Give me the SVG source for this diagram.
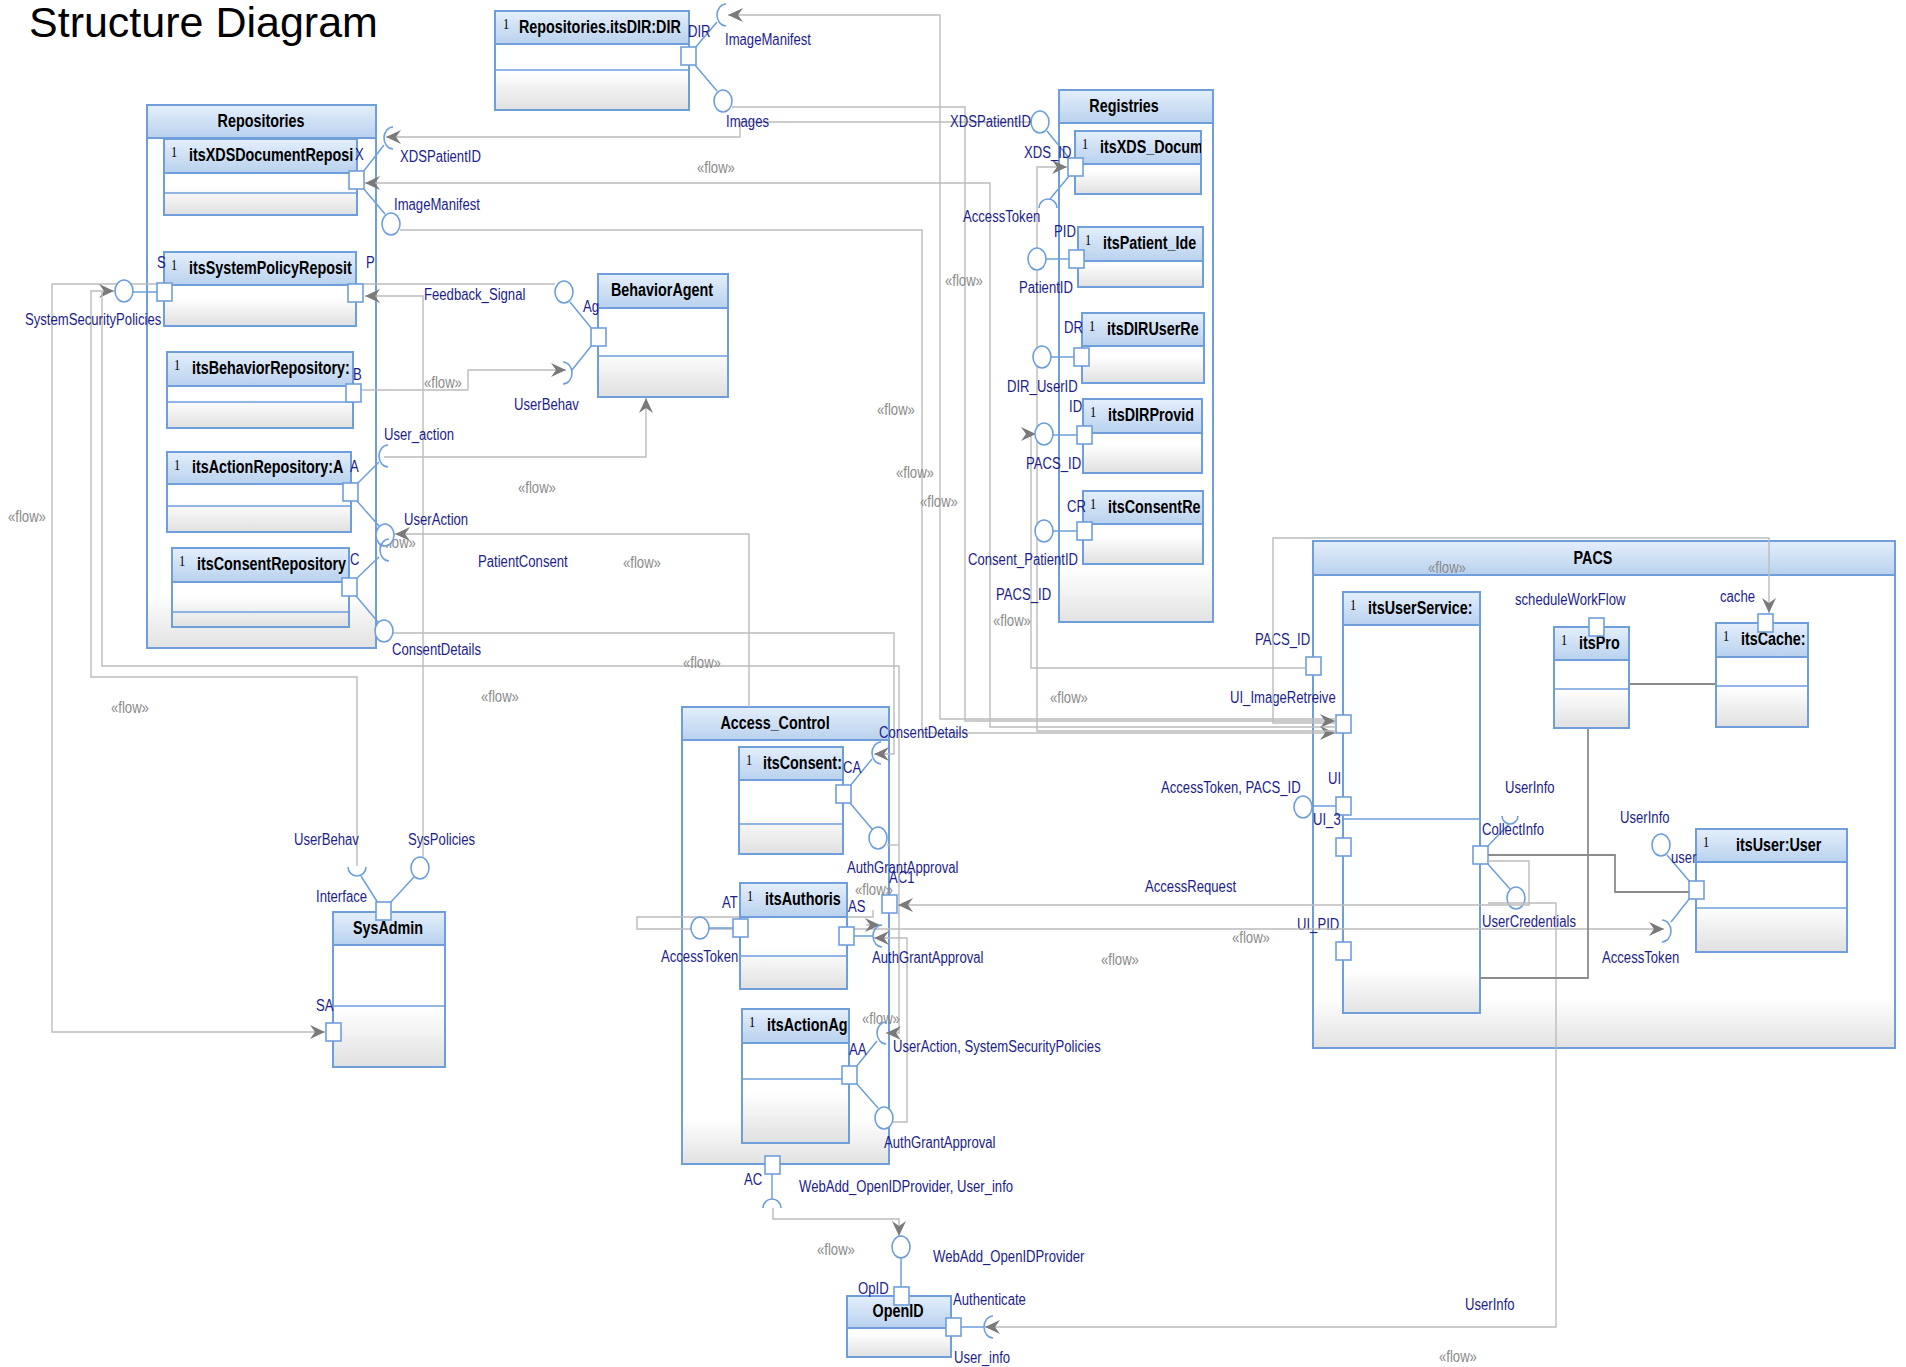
<svg xmlns="http://www.w3.org/2000/svg" width="1906" height="1367" viewBox="0 0 1906 1367">
<defs>
<linearGradient id="gHdr" x1="0" y1="0" x2="0" y2="1"><stop offset="0" stop-color="#e4effb"/><stop offset="1" stop-color="#b9d1ee"/></linearGradient>
<linearGradient id="gBody" x1="0" y1="0" x2="0" y2="1"><stop offset="0" stop-color="#ffffff"/><stop offset="0.62" stop-color="#ffffff"/><stop offset="1" stop-color="#e0e0e0"/></linearGradient>
<linearGradient id="gCont" x1="0" y1="0" x2="0" y2="1"><stop offset="0" stop-color="#ffffff"/><stop offset="0.9" stop-color="#ffffff"/><stop offset="1" stop-color="#e2e2e2"/></linearGradient>
<marker id="arr" markerWidth="16" markerHeight="16" refX="15" refY="8" orient="auto" markerUnits="userSpaceOnUse"><path d="M0,1 L15,8 L0,15 L5,8 Z" fill="#7a7a7a"/></marker>
<clipPath id="c1"><rect x="164" y="139" width="193" height="34"/></clipPath>
<clipPath id="c2"><rect x="164" y="252" width="192" height="33"/></clipPath>
<clipPath id="c3"><rect x="167" y="352" width="186" height="34"/></clipPath>
<clipPath id="c4"><rect x="167" y="452" width="184" height="32"/></clipPath>
<clipPath id="c5"><rect x="172" y="548" width="177" height="34"/></clipPath>
<clipPath id="c6"><rect x="495" y="11" width="194" height="33"/></clipPath>
<clipPath id="c7"><rect x="1075" y="131" width="126" height="33"/></clipPath>
<clipPath id="c8"><rect x="1078" y="227" width="125" height="34"/></clipPath>
<clipPath id="c9"><rect x="1082" y="313" width="122" height="33"/></clipPath>
<clipPath id="c10"><rect x="1083" y="399" width="119" height="34"/></clipPath>
<clipPath id="c11"><rect x="1083" y="491" width="120" height="33"/></clipPath>
<clipPath id="c12"><rect x="1343" y="592" width="137" height="33"/></clipPath>
<clipPath id="c13"><rect x="1554" y="627" width="75" height="33"/></clipPath>
<clipPath id="c14"><rect x="1716" y="623" width="92" height="34"/></clipPath>
<clipPath id="c16"><rect x="739" y="747" width="104" height="33"/></clipPath>
<clipPath id="c17"><rect x="740" y="883" width="107" height="34"/></clipPath>
<clipPath id="c18"><rect x="742" y="1009" width="107" height="34"/></clipPath>
<style>
.cont{fill:url(#gCont);stroke:#6e9fdb;stroke-width:2}
.body{fill:url(#gBody);stroke:#6e9fdb;stroke-width:2}
.hdr{fill:url(#gHdr);stroke:#6e9fdb;stroke-width:2}
.sep{stroke:#6e9fdb;stroke-width:1.5}
.port{fill:#ffffff;stroke:#6e9fdb;stroke-width:1.6}
.ball{fill:#ffffff;stroke:#6e9fdb;stroke-width:1.6}
.sock{fill:none;stroke:#6e9fdb;stroke-width:1.6}
.lnk{fill:none;stroke:#6e9fdb;stroke-width:1.5}
.flow{fill:none;stroke:#bcbcbc;stroke-width:1.4}
.assoc{fill:none;stroke:#8c8c8c;stroke-width:1.8}
.t{font-family:"Liberation Sans",Arial,sans-serif;font-weight:bold;font-size:17.5px;fill:#000000}
.one{font-family:"Liberation Serif","Times New Roman",serif;font-size:15px;fill:#000000}
.lb{font-family:"Liberation Sans",Arial,sans-serif;font-size:16px;fill:#1d1d8a}
.fw{font-family:"Liberation Sans",Arial,sans-serif;font-size:16px;fill:#8a8a8a}
.h1{font-family:"Liberation Sans",Arial,sans-serif;font-size:43px;fill:#000000}
</style>
</defs>
<rect width="1906" height="1367" fill="#ffffff"/>
<text class="h1" x="29" y="37">Structure Diagram</text>

<!-- containers -->
<g id="Repositories">
<rect class="cont" x="147" y="105" width="229" height="543"/>
<rect class="hdr" x="147" y="105" width="229" height="33"/>
<text class="t" text-anchor="middle" transform="matrix(.82 0 0 1 261 127)">Repositories</text>
</g>
<g id="Registries">
<rect class="cont" x="1059" y="90" width="154" height="532"/>
<rect class="hdr" x="1059" y="90" width="154" height="33"/>
<text class="t" text-anchor="middle" transform="matrix(.82 0 0 1 1124 112)">Registries</text>
</g>
<g id="PACS">
<rect class="cont" x="1313" y="541" width="582" height="507"/>
<rect class="hdr" x="1313" y="541" width="582" height="34"/>
<text class="t" text-anchor="middle" transform="matrix(.82 0 0 1 1593 564)">PACS</text>
<rect class="port" x="1306" y="657" width="15" height="18"/>
<text class="lb" transform="matrix(.82 0 0 1 1255 645)">PACS_ID</text>
</g>
<g id="Access_Control">
<rect class="cont" x="682" y="707" width="207" height="457"/>
<rect class="hdr" x="682" y="707" width="207" height="33"/>
<text class="t" text-anchor="middle" transform="matrix(.82 0 0 1 775 729)">Access_Control</text>
<path class="lnk" d="M772,1174 L772,1199"/>
<path class="sock" d="M763,1208 A9 9 0 0 1 781,1208"/>
<rect class="port" x="882" y="895" width="15" height="18"/>
<rect class="port" x="765" y="1156" width="15" height="18"/>
<text class="lb" transform="matrix(.82 0 0 1 889 883)">AC1</text>
<text class="lb" transform="matrix(.82 0 0 1 744 1185)">AC</text>
<text class="lb" transform="matrix(.82 0 0 1 799 1192)">WebAdd_OpenIDProvider, User_info</text>
</g>

<g id="itsUserService">
<rect class="cont" x="1343" y="592" width="137" height="421"/>
<rect class="hdr" x="1343" y="592" width="137" height="33"/>
<line class="sep" x1="1343" y1="819" x2="1480" y2="819"/>
<text class="one" transform="matrix(.82 0 0 1 1350 610)">1</text>
<g clip-path="url(#c12)"><text class="t" transform="matrix(.82 0 0 1 1368 614)">itsUserService:</text></g>
<path class="lnk" d="M1312,806 L1336,806 M1487,847 L1509,824 M1487,863 L1510,889"/>
<ellipse class="ball" cx="1303" cy="807" rx="9" ry="11"/>
<path class="sock" d="M1502,816 A8 8 0 0 0 1518,816"/>
<ellipse class="ball" cx="1516" cy="898" rx="9" ry="11"/>
<rect class="port" x="1336" y="715" width="15" height="18"/>
<rect class="port" x="1336" y="797" width="15" height="18"/>
<rect class="port" x="1336" y="838" width="15" height="18"/>
<rect class="port" x="1336" y="942" width="15" height="18"/>
<rect class="port" x="1473" y="846" width="15" height="18"/>
<text class="lb" transform="matrix(.82 0 0 1 1230 703)">UI_ImageRetreive</text>
<text class="lb" transform="matrix(.82 0 0 1 1328 784)">UI</text>
<text class="lb" transform="matrix(.82 0 0 1 1313 825)">UI_3</text>
<text class="lb" transform="matrix(.82 0 0 1 1297 930)">UI_PID</text>
<text class="lb" transform="matrix(.82 0 0 1 1482 835)">CollectInfo</text>
<text class="lb" transform="matrix(.82 0 0 1 1161 793)">AccessToken, PACS_ID</text>
<text class="lb" transform="matrix(.82 0 0 1 1505 793)">UserInfo</text>
<text class="lb" transform="matrix(.82 0 0 1 1482 927)">UserCredentials</text>
</g>

<!-- connectors -->
<g id="connectors">
<path class="flow" marker-end="url(#arr)" d="M1336,719 L940,719 L940,15 L728,15"/>
<path class="flow" marker-end="url(#arr)" d="M1336,723 L1273,723 L1273,538 L1769,538 L1769,613"/>
<path class="flow" marker-end="url(#arr)" d="M732,107 L965,107 L965,721 L1335,721"/>
<path class="flow" marker-end="url(#arr)" d="M1336,727 L990,727 L990,183 L365,183"/>
<path class="flow" marker-end="url(#arr)" d="M400,230 L922,230 L922,733 L1335,733"/>
<path class="flow" marker-end="url(#arr)" d="M1031,122 L740,122 L740,137 L386,137"/>
<path class="flow" marker-end="url(#arr)" d="M1336,731 L1037,731 L1037,167 L1067,167"/>
<path class="flow" marker-end="url(#arr)" d="M1306,668 L1031,668 L1031,434 L1036,434"/>
<path class="flow" marker-end="url(#arr)" d="M423,857 L423,296 L365,296"/>
<path class="flow" marker-end="url(#arr)" d="M555,284 L52,284 L52,1032 L325,1032"/>
<path class="flow" marker-end="url(#arr)" d="M357,866 L357,677 L91,677 L91,291 L114,291"/>
<path class="flow" marker-end="url(#arr)" d="M102,291 L102,666 L899,666 L899,1033 L886,1033"/>
<path class="flow" marker-end="url(#arr)" d="M360,390 L468,390 L468,370 L566,370"/>
<path class="flow" marker-end="url(#arr)" d="M384,457 L646,457 L646,398"/>
<path class="flow" marker-end="url(#arr)" d="M749,707 L749,534 L395,534"/>
<path class="flow" marker-end="url(#arr)" d="M393,633 L894,633 L894,754 L874,754"/>
<path class="flow" d="M887,845 L899,845"/>
<path class="flow" marker-end="url(#arr)" d="M893,1122 L907,1122 L907,938 L874,938"/>
<path class="flow" marker-end="url(#arr)" d="M1488,861 L1529,861 L1529,905 L898,905"/>
<path class="flow" marker-end="url(#arr)" d="M873,910 L873,917 L637,917 L637,929 L1664,929"/>
<path class="flow" marker-end="url(#arr)" d="M866,925 L880,925"/>
<path class="flow" marker-end="url(#arr)" d="M773,1208 L773,1219 L899,1219 L899,1236"/>
<path class="flow" marker-end="url(#arr)" d="M1488,903 L1556,903 L1556,1327 L985,1327"/>
<path class="assoc" d="M1629,684 L1716,684"/>
<path class="assoc" d="M1588,728 L1588,978 L1480,978"/>
<path class="assoc" d="M1488,855 L1615,855 L1615,892 L1689,892"/>
<text class="fw" transform="matrix(.82 0 0 1 697 173)">«flow»</text>
<text class="fw" transform="matrix(.82 0 0 1 424 388)">«flow»</text>
<text class="fw" transform="matrix(.82 0 0 1 378 548)">«flow»</text>
<text class="fw" transform="matrix(.82 0 0 1 8 522)">«flow»</text>
<text class="fw" transform="matrix(.82 0 0 1 111 713)">«flow»</text>
<text class="fw" transform="matrix(.82 0 0 1 518 493)">«flow»</text>
<text class="fw" transform="matrix(.82 0 0 1 623 568)">«flow»</text>
<text class="fw" transform="matrix(.82 0 0 1 683 668)">«flow»</text>
<text class="fw" transform="matrix(.82 0 0 1 481 702)">«flow»</text>
<text class="fw" transform="matrix(.82 0 0 1 877 415)">«flow»</text>
<text class="fw" transform="matrix(.82 0 0 1 896 478)">«flow»</text>
<text class="fw" transform="matrix(.82 0 0 1 920 507)">«flow»</text>
<text class="fw" transform="matrix(.82 0 0 1 945 286)">«flow»</text>
<text class="fw" transform="matrix(.82 0 0 1 993 626)">«flow»</text>
<text class="fw" transform="matrix(.82 0 0 1 1050 703)">«flow»</text>
<text class="fw" transform="matrix(.82 0 0 1 1428 573)">«flow»</text>
<text class="fw" transform="matrix(.82 0 0 1 855 895)">«flow»</text>
<text class="fw" transform="matrix(.82 0 0 1 1232 943)">«flow»</text>
<text class="fw" transform="matrix(.82 0 0 1 1101 965)">«flow»</text>
<text class="fw" transform="matrix(.82 0 0 1 862 1024)">«flow»</text>
<text class="fw" transform="matrix(.82 0 0 1 817 1255)">«flow»</text>
<text class="fw" transform="matrix(.82 0 0 1 1439 1362)">«flow»</text>
<text class="lb" transform="matrix(.82 0 0 1 996 600)">PACS_ID</text>
<text class="lb" transform="matrix(.82 0 0 1 1145 892)">AccessRequest</text>
<text class="lb" transform="matrix(.82 0 0 1 1465 1310)">UserInfo</text>
</g>

<!-- Repositories parts -->
<g id="itsXDSDocumentRepository">
<rect class="body" x="164" y="139" width="193" height="76"/>
<rect class="hdr" x="164" y="139" width="193" height="34"/>
<line class="sep" x1="164" y1="193" x2="357" y2="193"/>
<text class="one" transform="matrix(.82 0 0 1 171 157)">1</text>
<g clip-path="url(#c1)"><text class="t" transform="matrix(.82 0 0 1 189 161)">itsXDSDocumentReposi</text></g>
<path class="lnk" d="M363,172 L384,145 M363,188 L385,214"/>
<path class="sock" d="M393,127 A9 11 0 0 0 393,149"/>
<ellipse class="ball" cx="391" cy="224" rx="9" ry="11"/>
<rect class="port" x="349" y="171" width="15" height="18"/>
<text class="lb" transform="matrix(.82 0 0 1 355 160)">X</text>
<text class="lb" transform="matrix(.82 0 0 1 400 162)">XDSPatientID</text>
<text class="lb" transform="matrix(.82 0 0 1 394 210)">ImageManifest</text>
</g>
<g id="itsSystemPolicyRepository">
<rect class="body" x="164" y="252" width="192" height="74"/>
<rect class="hdr" x="164" y="252" width="192" height="33"/>
<text class="one" transform="matrix(.82 0 0 1 171 270)">1</text>
<g clip-path="url(#c2)"><text class="t" transform="matrix(.82 0 0 1 189 274)">itsSystemPolicyReposit</text></g>
<path class="lnk" d="M133,292 L157,292"/>
<ellipse class="ball" cx="124" cy="291" rx="9" ry="11"/>
<rect class="port" x="157" y="283" width="15" height="18"/>
<rect class="port" x="348" y="284" width="15" height="18"/>
<text class="lb" transform="matrix(.82 0 0 1 157 268)">S</text>
<text class="lb" transform="matrix(.82 0 0 1 366 268)">P</text>
<text class="lb" transform="matrix(.82 0 0 1 25 325)">SystemSecurityPolicies</text>
</g>
<g id="itsBehaviorRepository">
<rect class="body" x="167" y="352" width="186" height="76"/>
<rect class="hdr" x="167" y="352" width="186" height="34"/>
<line class="sep" x1="167" y1="402" x2="353" y2="402"/>
<text class="one" transform="matrix(.82 0 0 1 174 370)">1</text>
<g clip-path="url(#c3)"><text class="t" transform="matrix(.82 0 0 1 192 374)">itsBehaviorRepository:</text></g>
<rect class="port" x="346" y="384" width="15" height="18"/>
<text class="lb" transform="matrix(.82 0 0 1 353 380)">B</text>
</g>
<g id="itsActionRepository">
<rect class="body" x="167" y="452" width="184" height="80"/>
<rect class="hdr" x="167" y="452" width="184" height="32"/>
<line class="sep" x1="167" y1="506" x2="351" y2="506"/>
<text class="one" transform="matrix(.82 0 0 1 174 470)">1</text>
<g clip-path="url(#c4)"><text class="t" transform="matrix(.82 0 0 1 192 473)">itsActionRepository:A</text></g>
<path class="lnk" d="M357,484 L379,462 M357,501 L379,526"/>
<path class="sock" d="M388,445 A9 11 0 0 0 388,467"/>
<ellipse class="ball" cx="385" cy="535" rx="9" ry="11"/>
<rect class="port" x="343" y="483" width="15" height="18"/>
<text class="lb" transform="matrix(.82 0 0 1 350 472)">A</text>
<text class="lb" transform="matrix(.82 0 0 1 384 440)">User_action</text>
<text class="lb" transform="matrix(.82 0 0 1 404 525)">UserAction</text>
</g>
<g id="itsConsentRepository">
<rect class="body" x="172" y="548" width="177" height="79"/>
<rect class="hdr" x="172" y="548" width="177" height="34"/>
<line class="sep" x1="172" y1="612" x2="349" y2="612"/>
<text class="one" transform="matrix(.82 0 0 1 179 566)">1</text>
<g clip-path="url(#c5)"><text class="t" transform="matrix(.82 0 0 1 197 570)">itsConsentRepository</text></g>
<path class="lnk" d="M356,579 L379,557 M356,596 L378,622"/>
<path class="sock" d="M389,539 A9 11 0 0 0 389,561"/>
<ellipse class="ball" cx="384" cy="631" rx="9" ry="11"/>
<rect class="port" x="342" y="578" width="15" height="18"/>
<text class="lb" transform="matrix(.82 0 0 1 350 565)">C</text>
<text class="lb" transform="matrix(.82 0 0 1 392 655)">ConsentDetails</text>
<text class="lb" transform="matrix(.82 0 0 1 478 567)">PatientConsent</text>
</g>

<g id="itsDIR">
<rect class="body" x="495" y="11" width="194" height="99"/>
<rect class="hdr" x="495" y="11" width="194" height="33"/>
<line class="sep" x1="495" y1="70" x2="689" y2="70"/>
<text class="one" transform="matrix(.82 0 0 1 503 29)">1</text>
<g clip-path="url(#c6)"><text class="t" transform="matrix(.82 0 0 1 519 33)">Repositories.itsDIR:DIR</text></g>
<path class="lnk" d="M695,48 L717,22 M695,65 L717,91"/>
<path class="sock" d="M726,4 A9 11 0 0 0 726,26"/>
<ellipse class="ball" cx="723" cy="101" rx="9" ry="11"/>
<rect class="port" x="681" y="47" width="15" height="18"/>
<text class="lb" transform="matrix(.82 0 0 1 688 37)">DIR</text>
<text class="lb" transform="matrix(.82 0 0 1 725 45)">ImageManifest</text>
<text class="lb" transform="matrix(.82 0 0 1 726 127)">Images</text>
</g>

<g id="BehaviorAgent">
<rect class="body" x="598" y="274" width="130" height="123"/>
<rect class="hdr" x="598" y="274" width="130" height="34"/>
<line class="sep" x1="598" y1="356" x2="728" y2="356"/>
<text class="t" text-anchor="middle" transform="matrix(.82 0 0 1 662 296)">BehaviorAgent</text>
<path class="lnk" d="M592,329 L570,302 M592,345 L572,370"/>
<ellipse class="ball" cx="564" cy="292" rx="9" ry="11"/>
<path class="sock" d="M563,362 A9 11 0 0 1 563,384"/>
<rect class="port" x="591" y="328" width="15" height="18"/>
<text class="lb" transform="matrix(.82 0 0 1 583 312)">Ag</text>
<text class="lb" transform="matrix(.82 0 0 1 424 300)">Feedback_Signal</text>
<text class="lb" transform="matrix(.82 0 0 1 514 410)">UserBehav</text>
</g>

<g id="SysAdmin">
<rect class="body" x="333" y="912" width="112" height="155"/>
<rect class="hdr" x="333" y="912" width="112" height="33"/>
<line class="sep" x1="333" y1="1006" x2="445" y2="1006"/>
<text class="t" text-anchor="middle" transform="matrix(.82 0 0 1 388 934)">SysAdmin</text>
<path class="lnk" d="M378,903 L361,876 M390,903 L414,877"/>
<path class="sock" d="M348,867 A9 9 0 0 0 366,867"/>
<ellipse class="ball" cx="420" cy="868" rx="9" ry="11"/>
<rect class="port" x="376" y="902" width="15" height="18"/>
<rect class="port" x="326" y="1023" width="15" height="18"/>
<text class="lb" transform="matrix(.82 0 0 1 316 902)">Interface</text>
<text class="lb" transform="matrix(.82 0 0 1 316 1011)">SA</text>
<text class="lb" transform="matrix(.82 0 0 1 294 845)">UserBehav</text>
<text class="lb" transform="matrix(.82 0 0 1 408 845)">SysPolicies</text>
</g>

<!-- Registries parts -->
<g id="itsXDS_Document">
<rect class="body" x="1075" y="131" width="126" height="63"/>
<rect class="hdr" x="1075" y="131" width="126" height="33"/>
<text class="one" transform="matrix(.82 0 0 1 1082 149)">1</text>
<g clip-path="url(#c7)"><text class="t" transform="matrix(.82 0 0 1 1100 153)">itsXDS_Docum</text></g>
<path class="lnk" d="M1047,131 L1069,158 M1070,175 L1050,199"/>
<ellipse class="ball" cx="1040" cy="122" rx="9" ry="11"/>
<path class="sock" d="M1039,208 A9 9 0 0 1 1057,208"/>
<rect class="port" x="1068" y="158" width="15" height="18"/>
<text class="lb" transform="matrix(.82 0 0 1 1024 158)">XDS_ID</text>
<text class="lb" transform="matrix(.82 0 0 1 950 127)">XDSPatientID</text>
<text class="lb" transform="matrix(.82 0 0 1 963 222)">AccessToken</text>
</g>
<g id="itsPatient_Identity">
<rect class="body" x="1078" y="227" width="125" height="60"/>
<rect class="hdr" x="1078" y="227" width="125" height="34"/>
<text class="one" transform="matrix(.82 0 0 1 1085 245)">1</text>
<g clip-path="url(#c8)"><text class="t" transform="matrix(.82 0 0 1 1103 249)">itsPatient_Ide</text></g>
<path class="lnk" d="M1046,259 L1069,259"/>
<ellipse class="ball" cx="1037" cy="259" rx="9" ry="11"/>
<rect class="port" x="1069" y="250" width="15" height="18"/>
<text class="lb" transform="matrix(.82 0 0 1 1054 237)">PID</text>
<text class="lb" transform="matrix(.82 0 0 1 1019 293)">PatientID</text>
</g>
<g id="itsDIRUserRegistry">
<rect class="body" x="1082" y="313" width="122" height="70"/>
<rect class="hdr" x="1082" y="313" width="122" height="33"/>
<text class="one" transform="matrix(.82 0 0 1 1089 331)">1</text>
<g clip-path="url(#c9)"><text class="t" transform="matrix(.82 0 0 1 1107 335)">itsDIRUserRe</text></g>
<path class="lnk" d="M1051,357 L1074,357"/>
<ellipse class="ball" cx="1042" cy="357" rx="9" ry="11"/>
<rect class="port" x="1074" y="348" width="15" height="18"/>
<text class="lb" transform="matrix(.82 0 0 1 1064 333)">DR</text>
<text class="lb" transform="matrix(.82 0 0 1 1007 392)">DIR_UserID</text>
</g>
<g id="itsDIRProvider">
<rect class="body" x="1083" y="399" width="119" height="74"/>
<rect class="hdr" x="1083" y="399" width="119" height="34"/>
<text class="one" transform="matrix(.82 0 0 1 1090 417)">1</text>
<g clip-path="url(#c10)"><text class="t" transform="matrix(.82 0 0 1 1108 421)">itsDIRProvid</text></g>
<path class="lnk" d="M1053,435 L1077,435"/>
<ellipse class="ball" cx="1044" cy="434" rx="9" ry="11"/>
<rect class="port" x="1077" y="426" width="15" height="18"/>
<text class="lb" transform="matrix(.82 0 0 1 1069 412)">ID</text>
<text class="lb" transform="matrix(.82 0 0 1 1026 469)">PACS_ID</text>
</g>
<g id="itsConsentRegistry">
<rect class="body" x="1083" y="491" width="120" height="73"/>
<rect class="hdr" x="1083" y="491" width="120" height="33"/>
<text class="one" transform="matrix(.82 0 0 1 1090 509)">1</text>
<g clip-path="url(#c11)"><text class="t" transform="matrix(.82 0 0 1 1108 513)">itsConsentRe</text></g>
<path class="lnk" d="M1053,531 L1077,531"/>
<ellipse class="ball" cx="1044" cy="531" rx="9" ry="11"/>
<rect class="port" x="1077" y="522" width="15" height="18"/>
<text class="lb" transform="matrix(.82 0 0 1 1067 512)">CR</text>
<text class="lb" transform="matrix(.82 0 0 1 968 565)">Consent_PatientID</text>
</g>

<!-- PACS parts -->
<g id="itsPro">
<rect class="body" x="1554" y="627" width="75" height="101"/>
<rect class="hdr" x="1554" y="627" width="75" height="33"/>
<line class="sep" x1="1554" y1="689" x2="1629" y2="689"/>
<text class="one" transform="matrix(.82 0 0 1 1561 645)">1</text>
<g clip-path="url(#c13)"><text class="t" transform="matrix(.82 0 0 1 1579 649)">itsPro</text></g>
<rect class="port" x="1589" y="618" width="15" height="18"/>
<text class="lb" transform="matrix(.82 0 0 1 1515 605)">scheduleWorkFlow</text>
</g>
<g id="itsCache">
<rect class="body" x="1716" y="623" width="92" height="104"/>
<rect class="hdr" x="1716" y="623" width="92" height="34"/>
<line class="sep" x1="1716" y1="686" x2="1808" y2="686"/>
<text class="one" transform="matrix(.82 0 0 1 1723 641)">1</text>
<g clip-path="url(#c14)"><text class="t" transform="matrix(.82 0 0 1 1741 645)">itsCache:</text></g>
<rect class="port" x="1758" y="614" width="15" height="18"/>
<text class="lb" transform="matrix(.82 0 0 1 1720 602)">cache</text>
</g>
<g id="itsUser">
<rect class="body" x="1696" y="829" width="151" height="123"/>
<rect class="hdr" x="1696" y="829" width="151" height="33"/>
<line class="sep" x1="1696" y1="908" x2="1847" y2="908"/>
<text class="one" transform="matrix(.82 0 0 1 1703 847)">1</text>
<text class="t" transform="matrix(.82 0 0 1 1736 851)">itsUser:User</text>
<path class="lnk" d="M1690,882 L1667,855 M1690,898 L1671,922"/>
<ellipse class="ball" cx="1661" cy="845" rx="9" ry="11"/>
<path class="sock" d="M1662,920 A9 11 0 0 1 1662,942"/>
<rect class="port" x="1689" y="881" width="15" height="18"/>
<text class="lb" transform="matrix(.82 0 0 1 1671 863)">user</text>
<text class="lb" transform="matrix(.82 0 0 1 1620 823)">UserInfo</text>
<text class="lb" transform="matrix(.82 0 0 1 1602 963)">AccessToken</text>
</g>

<!-- Access_Control parts -->
<g id="itsConsent">
<rect class="body" x="739" y="747" width="104" height="107"/>
<rect class="hdr" x="739" y="747" width="104" height="33"/>
<line class="sep" x1="739" y1="824" x2="843" y2="824"/>
<text class="one" transform="matrix(.82 0 0 1 746 765)">1</text>
<g clip-path="url(#c16)"><text class="t" transform="matrix(.82 0 0 1 763 769)">itsConsent:</text></g>
<path class="lnk" d="M850,786 L872,759 M850,803 L872,829"/>
<path class="sock" d="M881,742 A9 11 0 0 0 881,764"/>
<ellipse class="ball" cx="878" cy="838" rx="9" ry="11"/>
<rect class="port" x="836" y="785" width="15" height="18"/>
<text class="lb" transform="matrix(.82 0 0 1 843 773)">CA</text>
<text class="lb" transform="matrix(.82 0 0 1 879 738)">ConsentDetails</text>
<text class="lb" transform="matrix(.82 0 0 1 847 873)">AuthGrantApproval</text>
</g>
<g id="itsAuthorisation">
<rect class="body" x="740" y="883" width="107" height="106"/>
<rect class="hdr" x="740" y="883" width="107" height="34"/>
<line class="sep" x1="740" y1="956" x2="847" y2="956"/>
<text class="one" transform="matrix(.82 0 0 1 747 901)">1</text>
<g clip-path="url(#c17)"><text class="t" transform="matrix(.82 0 0 1 765 905)">itsAuthoris</text></g>
<path class="lnk" d="M709,928 L733,928 M854,936 L873,936"/>
<ellipse class="ball" cx="700" cy="928" rx="9" ry="11"/>
<path class="sock" d="M882,925 A9 11 0 0 0 882,947"/>
<rect class="port" x="733" y="919" width="15" height="18"/>
<rect class="port" x="839" y="927" width="15" height="18"/>
<text class="lb" transform="matrix(.82 0 0 1 722 908)">AT</text>
<text class="lb" transform="matrix(.82 0 0 1 848 912)">AS</text>
<text class="lb" transform="matrix(.82 0 0 1 661 962)">AccessToken</text>
<text class="lb" transform="matrix(.82 0 0 1 872 963)">AuthGrantApproval</text>
</g>
<g id="itsActionAgent">
<rect class="body" x="742" y="1009" width="107" height="134"/>
<rect class="hdr" x="742" y="1009" width="107" height="34"/>
<line class="sep" x1="742" y1="1079" x2="849" y2="1079"/>
<text class="one" transform="matrix(.82 0 0 1 749 1027)">1</text>
<g clip-path="url(#c18)"><text class="t" transform="matrix(.82 0 0 1 767 1031)">itsActionAg</text></g>
<path class="lnk" d="M856,1067 L877,1041 M856,1083 L878,1108"/>
<path class="sock" d="M886,1022 A9 11 0 0 0 886,1044"/>
<ellipse class="ball" cx="884" cy="1118" rx="9" ry="11"/>
<rect class="port" x="842" y="1066" width="15" height="18"/>
<text class="lb" transform="matrix(.82 0 0 1 849 1055)">AA</text>
<text class="lb" transform="matrix(.82 0 0 1 893 1052)">UserAction, SystemSecurityPolicies</text>
<text class="lb" transform="matrix(.82 0 0 1 884 1148)">AuthGrantApproval</text>
</g>

<g id="OpenID">
<rect class="body" x="847" y="1296" width="104" height="61"/>
<rect class="hdr" x="847" y="1296" width="104" height="32"/>
<text class="t" text-anchor="middle" transform="matrix(.82 0 0 1 898 1317)">OpenID</text>
<path class="lnk" d="M901,1258 L901,1287 M961,1327 L984,1327"/>
<ellipse class="ball" cx="901" cy="1247" rx="9" ry="11"/>
<path class="sock" d="M993,1316 A9 11 0 0 0 993,1338"/>
<rect class="port" x="894" y="1287" width="15" height="18"/>
<rect class="port" x="946" y="1318" width="15" height="18"/>
<text class="lb" transform="matrix(.82 0 0 1 858 1294)">OpID</text>
<text class="lb" transform="matrix(.82 0 0 1 933 1262)">WebAdd_OpenIDProvider</text>
<text class="lb" transform="matrix(.82 0 0 1 953 1305)">Authenticate</text>
<text class="lb" transform="matrix(.82 0 0 1 954 1363)">User_info</text>
</g>
</svg>
